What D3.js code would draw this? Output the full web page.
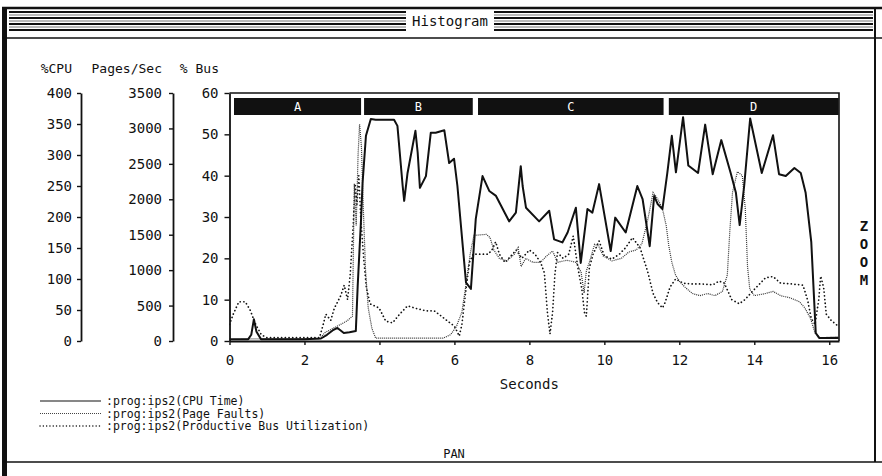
<!DOCTYPE html>
<html>
<head>
<meta charset="utf-8">
<script src="https://cdn.jsdelivr.net/npm/d3@7"></script>
<style>
  body { margin: 0; background: #fff; }
  text { font-family: "DejaVu Sans Mono", monospace; fill: #111; }
</style>
</head>
<body>
<svg id="chart" width="882" height="476"></svg>
<script>
// CPU Time (%CPU)
const cpuSec = [0, 0.5, 0.58, 0.65, 0.72, 0.84, 1.5, 2.0, 2.44, 2.6, 2.75, 2.88, 3.05, 3.2, 3.37, 3.42, 3.51, 3.55, 3.64, 3.77,
  3.9, 4.39, 4.48, 4.62, 4.66, 4.75, 4.96, 5.02, 5.08, 5.24, 5.37, 5.5, 5.73, 5.86, 5.99, 6.08, 6.31, 6.44, 6.57, 6.75,
  6.93, 7.11, 7.46, 7.64, 7.77, 7.82, 7.91, 8.26, 8.53, 8.66, 8.88, 9.02, 9.24, 9.37, 9.55, 9.68, 9.86, 10.17, 10.29, 10.57,
  10.88, 11.02, 11.21, 11.33, 11.42, 11.55, 11.68, 11.8, 11.91, 12.1, 12.24, 12.5, 12.69, 12.89, 13.12, 13.37, 13.51, 13.61, 13.73, 13.89,
  14.2, 14.5, 14.66, 14.84, 15.07, 15.24, 15.37, 15.52, 15.64, 15.73, 16.25];
const cpuPct = [3, 3, 10, 35, 15, 3, 3, 3, 4, 10, 17, 21, 13, 14, 16, 89, 197, 255, 331, 358,
  357, 357, 347, 250, 226, 271, 339, 304, 247, 266, 336, 336, 340, 287, 294, 250, 94, 84, 197, 266,
  242, 234, 193, 207, 282, 250, 215, 193, 210, 164, 159, 175, 215, 126, 213, 207, 253, 145, 199, 175,
  250, 229, 153, 234, 221, 213, 271, 331, 272, 361, 283, 271, 349, 269, 324, 271, 239, 187, 250, 359,
  271, 332, 269, 266, 279, 271, 239, 160, 13, 5, 5];

// Page Faults (Pages/Sec)
const pageSec = [0, 0.6, 2.4, 2.55, 2.75, 2.95, 3.15, 3.28, 3.33, 3.38, 3.43, 3.47, 3.52, 3.57, 3.63, 3.7, 3.8, 3.9, 5.7, 5.9,
  6.05, 6.2, 6.3, 6.42, 6.52, 6.85, 6.95, 7.05, 7.2, 7.4, 7.6, 7.7, 7.78, 7.9, 8.1, 8.3, 8.45, 8.62, 8.75, 9.0,
  9.25, 9.38, 9.46, 9.52, 9.6, 9.74, 9.85, 9.97, 10.2, 10.45, 10.65, 10.85, 11.0, 11.15, 11.3, 11.42, 11.55, 11.65, 11.72, 11.8,
  11.9, 12.0, 12.15, 12.35, 12.55, 12.75, 12.95, 13.15, 13.28, 13.35, 13.42, 13.55, 13.68, 13.76, 13.82, 13.88, 14.0, 14.3, 14.5, 14.7,
  14.95, 15.2, 15.35, 15.5, 15.62, 15.75, 16.25];
const pageRate = [20, 30, 30, 120, 175, 230, 290, 350, 2220, 1630, 2625, 3060, 2740, 1870, 990, 470, 175, 40, 40, 90,
  200, 410, 760, 1225, 1490, 1505, 1460, 1285, 1165, 1130, 1225, 1320, 1050, 1165, 1110, 1110, 1195, 1270, 1110, 1140,
  1110, 970, 680, 990, 1110, 1365, 1340, 1200, 1130, 1165, 1255, 1285, 1370, 1690, 2095, 2010, 1865, 1630, 1340, 1110,
  930, 845, 760, 670, 640, 670, 640, 700, 930, 1575, 2100, 2390, 2335, 1865, 1050, 730, 640, 670, 700, 640,
  610, 555, 465, 320, 115, 45, 60];

// Productive Bus Utilization (% Bus)
const busSec = [0, 0.1, 0.25, 0.42, 0.55, 0.7, 0.85, 1.0, 2.4, 2.5, 2.57, 2.7, 2.8, 2.97, 3.06, 3.15, 3.22, 3.3, 3.35, 3.4,
  3.45, 3.5, 3.58, 3.65, 3.75, 3.99, 4.17, 4.35, 4.53, 4.75, 4.97, 5.24, 5.46, 5.64, 5.82, 6.0, 6.13, 6.2, 6.31, 6.4,
  6.5, 6.9, 7.0, 7.1, 7.2, 7.35, 7.5, 7.65, 7.8, 8.0, 8.15, 8.3, 8.4, 8.48, 8.55, 8.62, 8.68, 8.75, 8.9, 9.05,
  9.17, 9.3, 9.4, 9.47, 9.52, 9.6, 9.7, 9.86, 10.0, 10.2, 10.4, 10.57, 10.75, 10.95, 11.15, 11.3, 11.42, 11.55, 11.62, 11.75,
  11.9, 12.1, 12.3, 12.6, 12.9, 13.06, 13.2, 13.4, 13.6, 13.75, 13.95, 14.3, 14.5, 14.7, 15.0, 15.3, 15.42, 15.52, 15.62, 15.72,
  15.77, 15.85, 15.92, 16.05, 16.25];
const busPct = [4, 6.5, 9.5, 9.5, 7.5, 4, 1.5, 0.8, 0.8, 4, 6.5, 5, 8, 11, 13.5, 10, 16, 28, 38, 33,
  40, 30, 20, 13, 9, 8, 4.8, 4.4, 6.4, 8.5, 7.9, 7.3, 7.3, 6.1, 4.8, 3.6, 1.2, 4, 12.6, 19,
  21, 21, 22, 24, 21, 19, 20.5, 22, 20, 22, 21, 19, 16.5, 7, 1.7, 7, 16, 21.4, 20, 21,
  25.4, 17.4, 12.5, 6.9, 6, 17.7, 21, 24.2, 20.6, 19.8, 21, 22.6, 25, 22.6, 17, 11.5, 9.3, 8, 9.3, 13,
  15, 14, 13.8, 13.8, 13.6, 14.5, 14, 10, 9, 10, 12, 15.3, 15.6, 14, 13.8, 13.5, 10, 5.5, 4, 10,
  15.7, 13, 6.5, 5, 3.5];

// phases drawn across the top of the plot
const phaseNames = ['A', 'B', 'C', 'D'];
const phaseStart = [0.12, 3.59, 6.63, 11.72];
const phaseEnd = [3.51, 6.49, 11.58, 16.25];

const secTicks = [0, 2, 4, 6, 8, 10, 12, 14, 16];
const cpuTicks = [0, 50, 100, 150, 200, 250, 300, 350, 400];
const pageTicks = [0, 500, 1000, 1500, 2000, 2500, 3000, 3500];
const busTicks = [0, 10, 20, 30, 40, 50, 60];

const legendLabels = [':prog:ips2(CPU Time)', ':prog:ips2(Page Faults)', ':prog:ips2(Productive Bus Utilization)'];

let svg = d3.select('#chart');
let plotTop = 93, plotBottom = 341, plotLeft = 229.5, plotRight = 839;

let x = d3.scaleLinear().domain([0, 16.26]).range([plotLeft, plotRight]);
let yCpu = d3.scaleLinear().domain([0, 400]).range([plotBottom, plotTop]);
let yPage = d3.scaleLinear().domain([0, 3500]).range([plotBottom, plotTop]);
let yBus = d3.scaleLinear().domain([0, 60]).range([plotBottom, plotTop]);

// window frame
svg.append('rect').attr('x', 0).attr('y', 0).attr('width', 882).attr('height', 476).attr('fill', '#fff');
svg.append('rect').attr('x', 2).attr('y', 7).attr('width', 5).attr('height', 469).attr('fill', '#111');
svg.append('line').attr('x1', 2).attr('x2', 882).attr('y1', 8).attr('y2', 8).attr('stroke', '#111').attr('stroke-width', 2.5);
svg.append('line').attr('x1', 2).attr('x2', 882).attr('y1', 38).attr('y2', 38).attr('stroke', '#111').attr('stroke-width', 1.5);
svg.append('line').attr('x1', 875).attr('x2', 875).attr('y1', 8).attr('y2', 462).attr('stroke', '#111').attr('stroke-width', 2);
svg.append('line').attr('x1', 2).attr('x2', 882).attr('y1', 462).attr('y2', 462).attr('stroke', '#111').attr('stroke-width', 1.3);

// title stripes
let stripes = svg.append('g');
[12, 15, 18, 21, 24, 27, 30].forEach((sy, i) => {
  [[9, 406], [494, 873]].forEach((seg) => {
    stripes.append('line')
      .attr('x1', seg[0]).attr('x2', seg[1])
      .attr('y1', sy).attr('y2', sy)
      .attr('stroke', i % 2 ? '#777' : '#111')
      .attr('stroke-width', i % 2 ? 1 : 2);
  });
});
svg.append('text').attr('x', 450).attr('y', 26).attr('text-anchor', 'middle')
  .style('font-size', '14px').text('Histogram');

// axis headers
svg.append('text').attr('x', 72).attr('y', 73).attr('text-anchor', 'end').style('font-size', '13px').text('%CPU');
svg.append('text').attr('x', 162).attr('y', 73).attr('text-anchor', 'end').style('font-size', '13px').text('Pages/Sec');
svg.append('text').attr('x', 219).attr('y', 73).attr('text-anchor', 'end').style('font-size', '13px').text('% Bus');

function styleAxis(g) {
  g.select('.domain').attr('stroke', '#111').attr('stroke-width', 1.8);
  g.selectAll('.tick line').attr('stroke', '#111').attr('stroke-width', 1.4);
  g.selectAll('.tick text').style('font-size', '14px').attr('fill', '#111');
}

let plain = d3.format('d');
svg.append('g').attr('transform', 'translate(81,0)')
  .call(d3.axisLeft(yCpu).tickValues(cpuTicks).tickFormat(plain).tickSize(4).tickSizeOuter(0).tickPadding(5))
  .call(styleAxis);
svg.append('g').attr('transform', 'translate(173,0)')
  .call(d3.axisLeft(yPage).tickValues(pageTicks).tickFormat(plain).tickSize(4).tickSizeOuter(0).tickPadding(7))
  .call(styleAxis);
svg.append('g').attr('transform', `translate(${plotLeft},0)`)
  .call(d3.axisLeft(yBus).tickValues(busTicks).tickFormat(plain).tickSize(5).tickSizeOuter(0).tickPadding(6))
  .call(styleAxis);
svg.append('g').attr('transform', `translate(0,${plotBottom})`)
  .call(d3.axisBottom(x).tickValues(secTicks).tickFormat(plain).tickSize(4).tickSizeOuter(0).tickPadding(10))
  .call(styleAxis)
  .call((g) => g.select('.domain').attr('stroke-width', 2.2));

svg.append('text').attr('x', x(8)).attr('y', 389).attr('text-anchor', 'middle')
  .style('font-size', '14px').text('Seconds');

// plot box
svg.append('path')
  .attr('d', `M${plotLeft},${plotTop}H${plotRight}V${plotBottom}`)
  .attr('fill', 'none').attr('stroke', '#111').attr('stroke-width', 1.6);

// phase bars
let phases = phaseNames.map((name, i) => ({ name: name, start: phaseStart[i], end: phaseEnd[i] }));
svg.append('g').selectAll('rect')
  .data(phases)
  .join('rect')
  .attr('x', (d) => x(d.start))
  .attr('y', 98)
  .attr('width', (d) => x(d.end) - x(d.start))
  .attr('height', 17)
  .attr('fill', '#111');
svg.append('g').selectAll('text')
  .data(phases)
  .join('text')
  .attr('x', (d) => (x(d.start) + x(d.end)) / 2)
  .attr('y', 111)
  .attr('text-anchor', 'middle')
  .style('font-size', '12px')
  .style('fill', '#fff')
  .text((d) => d.name);

svg.append('clipPath').attr('id', 'plot-clip')
  .append('rect').attr('x', plotLeft).attr('y', plotTop)
  .attr('width', plotRight - plotLeft).attr('height', plotBottom - plotTop);

let plot = svg.append('g').attr('clip-path', 'url(#plot-clip)');

let busLine = d3.line().x((d, i) => x(busSec[i])).y((d) => yBus(d));
let pageLine = d3.line().x((d, i) => x(pageSec[i])).y((d) => yPage(d));
let cpuLine = d3.line().x((d, i) => x(cpuSec[i])).y((d) => yCpu(d));

plot.append('path')
  .attr('d', busLine(busPct))
  .attr('fill', 'none')
  .attr('stroke', '#111')
  .attr('stroke-width', 1.7)
  .attr('stroke-linecap', 'round')
  .attr('stroke-dasharray', '0.1,3.6');
plot.append('path')
  .attr('d', pageLine(pageRate))
  .attr('fill', 'none')
  .attr('stroke', '#333')
  .attr('stroke-width', 1.2)
  .attr('stroke-dasharray', '1,1');
plot.append('path')
  .attr('d', cpuLine(cpuPct))
  .attr('fill', 'none')
  .attr('stroke', '#111')
  .attr('stroke-width', 2)
  .attr('stroke-linejoin', 'round');

// legend
let dashes = [null, '1,1', '0.1,3.2'];
let legend = svg.append('g').selectAll('g')
  .data(legendLabels)
  .join('g')
  .attr('transform', (d, i) => `translate(0,${401 + i * 12.5})`);
legend.append('line')
  .attr('x1', 40).attr('x2', 101).attr('y1', 0).attr('y2', 0)
  .attr('stroke', (d, i) => (i == 1 ? '#444' : '#111'))
  .attr('stroke-width', (d, i) => (i == 2 ? 1.4 : 1.2))
  .attr('stroke-linecap', (d, i) => (i == 2 ? 'round' : 'butt'))
  .attr('stroke-dasharray', (d, i) => dashes[i]);
legend.append('text')
  .attr('x', 106).attr('y', 4)
  .style('font-size', '11.5px')
  .text((d) => d);

svg.append('text').attr('x', 454).attr('y', 458).attr('text-anchor', 'middle')
  .style('font-size', '12px').text('PAN');

// vertical ZOOM label
svg.append('g').selectAll('text')
  .data('ZOOM'.split(''))
  .join('text')
  .attr('x', 864)
  .attr('y', (d, i) => 231 + i * 18)
  .attr('text-anchor', 'middle')
  .style('font-size', '14px')
  .style('font-weight', 'bold')
  .text((d) => d);
</script>
</body>
</html>
